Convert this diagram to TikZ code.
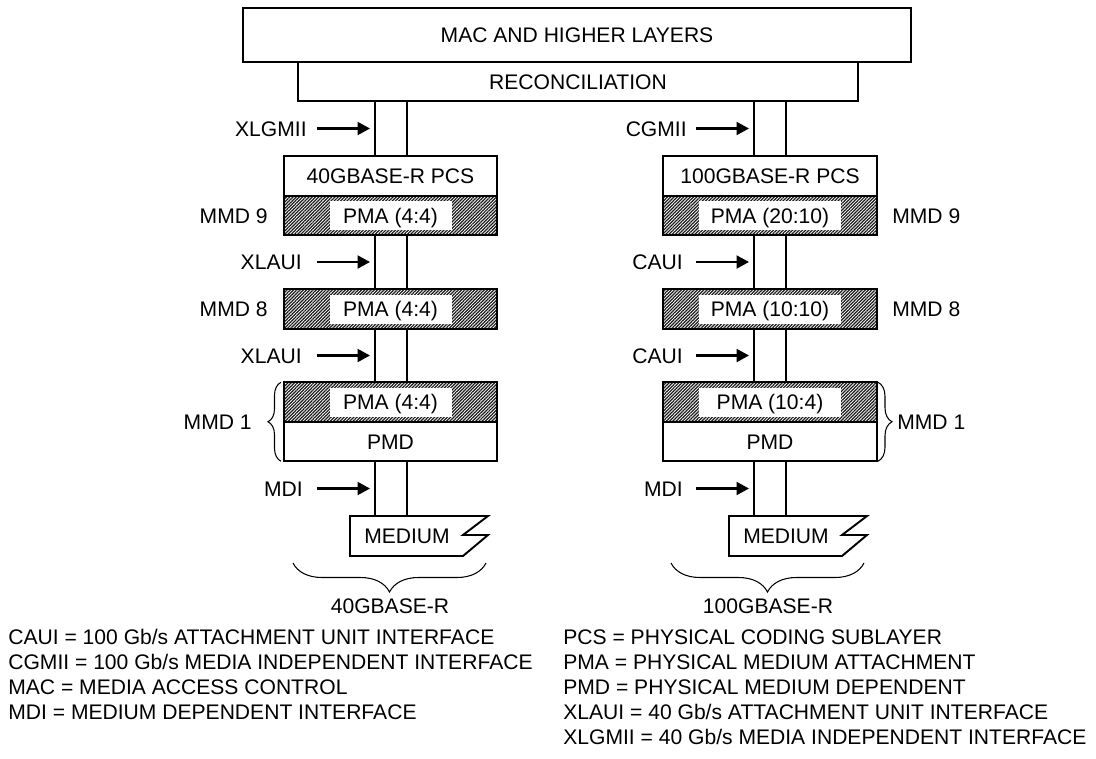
\documentclass[tikz,border=0pt]{standalone}
\usepackage{fontspec}
\setmainfont{Liberation Sans}
\usetikzlibrary{arrows.meta,positioning,patterns.meta,decorations.pathreplacing}
\def\px{0.02cm}
\tikzset{
  >={Triangle[length=0.25cm,width=0.26cm]},
  lay/.style={draw,line width=1.1pt,fill=white,outer sep=0pt,inner sep=0pt,
    minimum width=#1*\px,minimum height=39.5*\px,font=\fontsize{12}{14}\selectfont,
    text height=8.6pt,text depth=0pt},
  pma/.style={draw,line width=1.1pt,outer sep=0pt,minimum width=#1*\px,minimum height=39.5*\px,
    pattern={Lines[angle=45,distance=1.3pt,line width=0.7pt]},pattern color=black!90},
  pmatxt/.style={fill=white,inner sep=0pt,minimum width=#1*\px,minimum height=29*\px,
    font=\fontsize{12}{14}\selectfont,text height=8.6pt,text depth=0pt},
  pipe/.style={draw,line width=1.1pt,outer sep=0pt,minimum width=32*\px,minimum height=#1*\px},
  tag/.style={inner sep=0pt,font=\fontsize{12}{14}\selectfont,text height=8.6pt,text depth=0pt},
  iface/.style={->,line width=1.2pt},
  brc/.style={decorate,decoration={brace,amplitude=#1},line width=0.6pt},
  % pictogram
  pics/medium/.style={code={
    \draw[line width=1.1pt] (-41,0) -- (97,0) -- (72,19) -- (97,19) -- (72,40) -- (-41,40) -- cycle;
    \node[tag] (-txt) at (16,19.5) {MEDIUM};
  }},
}
\begin{document}
\begin{tikzpicture}[x=\px,y=-\px]
  \fill[white] (0,0) rectangle (1096,758);
  \useasboundingbox (0,0) rectangle (1096,758);
  \node[lay=668,minimum height=54*\px] (mac) at (577,35) {MAC AND HIGHER LAYERS};
  \node[lay=560] (rec) at (578,81.5) {RECONCILIATION};
  % 40G column
  \node[lay=213] (pcsL) at (390.5,176) {40GBASE-R PCS};
  \node[pma=213] (pma9L) at (390.5,215.5) {};
  \node[pmatxt=122] (t9L) at (pma9L) {PMA (4:4)};
  \node[pma=213] (pma8L) at (390.5,309) {};
  \node[pmatxt=122] (t8L) at (pma8L) {PMA (4:4)};
  \node[pma=213] (pma1L) at (390.5,402) {};
  \node[pmatxt=122] (t1L) at (pma1L) {PMA (4:4)};
  \node[lay=213] (pmdL) at (390.5,441.5) {PMD};
  \node[pipe=55] (p1L) at (391,128.5) {};
  \node[pipe=54] (p2L) at (391,262) {};
  \node[pipe=53] (p3L) at (391,355.5) {};
  \node[pipe=55] (p4L) at (391,488.5) {};
  % 100G column
  \node[lay=214] (pcsR) at (770,176) {100GBASE-R PCS};
  \node[pma=214] (pma9R) at (770,215.5) {};
  \node[pmatxt=142] (t9R) at (pma9R) {PMA (20:10)};
  \node[pma=214] (pma8R) at (770,309) {};
  \node[pmatxt=142] (t8R) at (pma8R) {PMA (10:10)};
  \node[pma=214] (pma1R) at (770,402) {};
  \node[pmatxt=142] (t1R) at (pma1R) {PMA (10:4)};
  \node[lay=214] (pmdR) at (770,441.5) {PMD};
  \node[pipe=55] (p1R) at (770,128.5) {};
  \node[pipe=54] (p2R) at (770,262) {};
  \node[pipe=53] (p3R) at (770,355.5) {};
  \node[pipe=55] (p4R) at (770,488.5) {};
  % interfaces
  \foreach \p/\t/\d in {p1L/XLGMII/68,p2L/XLAUI/73,p3L/XLAUI/73,p4L/MDI/72,
                        p1R/CGMII/67,p2R/CAUI/71,p3R/CAUI/71,p4R/MDI/71}{
    \node[tag,anchor=east] (n\p) at ([xshift=-\d*\px]\p.west) {\t};
    \draw[iface] ([xshift=-58*\px]\p.west) -- ([xshift=-5*\px]\p.west);
  }
  \pic (medL) at (p4L.south) {medium};
  \pic (medR) at (p4R.south) {medium};
  % MMD labels
  \node[tag,anchor=east] (mmd9L) at ([xshift=-16*\px]pma9L.west) {MMD 9};
  \node[tag,anchor=east] (mmd8L) at ([xshift=-16*\px]pma8L.west) {MMD 8};
  \node[tag,anchor=west] (mmd9R) at ([xshift=15*\px]pma9R.east) {MMD 9};
  \node[tag,anchor=west] (mmd8R) at ([xshift=15*\px]pma8R.east) {MMD 8};
  \draw[brc=0.26cm] ([xshift=-3*\px]pmdL.south west) -- ([xshift=-3*\px]pma1L.north west);
  \draw[brc=0.28cm] ([xshift=1*\px]pma1R.north east) -- ([xshift=1*\px]pmdR.south east);
  \node[tag,anchor=east] (mmd1L) at ([xshift=-32*\px]pma1L.south west) {MMD 1};
  \node[tag,anchor=west] (mmd1R) at ([xshift=20*\px]pma1R.south east) {MMD 1};
  % port types
  \draw[brc=0.58cm] (486,563) -- (293,563);
  \draw[brc=0.58cm] (864,563) -- (671,563);
  \node[tag] (baseL) at (390,606) {40GBASE-R};
  \node[tag] (baseR) at (768,606) {100GBASE-R};
  % key
  \foreach \t [count=\i from 0] in {CAUI = 100 Gb/s ATTACHMENT UNIT INTERFACE,
      CGMII = 100 Gb/s MEDIA INDEPENDENT INTERFACE,MAC = MEDIA ACCESS CONTROL,
      MDI = MEDIUM DEPENDENT INTERFACE}
    \node[tag,anchor=west] (keyL\i) at (8,637+25*\i) {\t};
  \foreach \t [count=\i from 0] in {PCS = PHYSICAL CODING SUBLAYER,
      PMA = PHYSICAL MEDIUM ATTACHMENT,PMD = PHYSICAL MEDIUM DEPENDENT,
      XLAUI = 40 Gb/s ATTACHMENT UNIT INTERFACE,XLGMII = 40 Gb/s MEDIA INDEPENDENT INTERFACE}
    \node[tag,anchor=west] (keyR\i) at (563,637+25*\i) {\t};
\end{tikzpicture}
\end{document}
